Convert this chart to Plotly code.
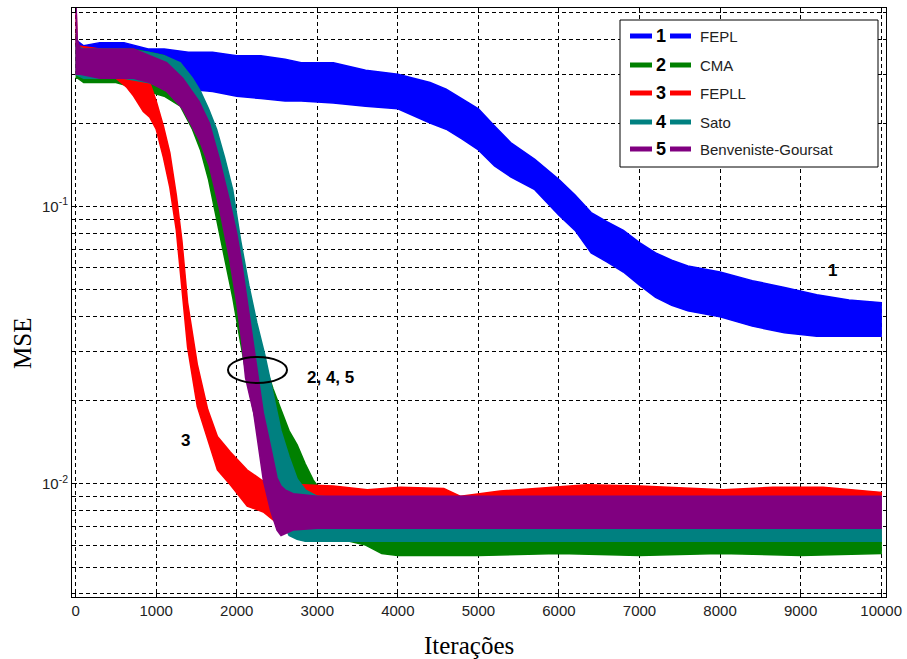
import plotly.graph_objects as go

# ---------------- data (noise-band envelopes) ----------------
fepl_iter = [0, 100, 300, 600, 900, 1100, 1400, 1700, 2000, 2300, 2600, 2800, 3200, 3600, 4000,
             4400, 4600, 4800, 5000, 5200, 5400, 5700, 6000, 6200, 6400, 6600, 6800, 7000, 7200,
             7400, 7600, 8000, 8400, 8800, 9200, 9600, 10000]
fepl_upper = [0.40, 0.38, 0.39, 0.39, 0.37, 0.37, 0.36, 0.36, 0.35, 0.35, 0.34, 0.33, 0.33, 0.31, 0.30,
              0.28, 0.265, 0.245, 0.225, 0.195, 0.17, 0.148, 0.125, 0.11, 0.095, 0.088, 0.082, 0.074, 0.068,
              0.064, 0.061, 0.058, 0.054, 0.051, 0.048, 0.046, 0.045]
fepl_lower = [0.30, 0.29, 0.29, 0.28, 0.28, 0.27, 0.265, 0.26, 0.25, 0.245, 0.24, 0.24, 0.236, 0.23, 0.225,
              0.20, 0.19, 0.175, 0.16, 0.14, 0.128, 0.115, 0.093, 0.082, 0.068, 0.063, 0.058, 0.052, 0.047,
              0.044, 0.042, 0.040, 0.037, 0.035, 0.034, 0.034, 0.034]

cma_iter = [0, 30, 100, 300, 500, 700, 900, 1100, 1300, 1450, 1550, 1650, 1750, 1850, 1950, 2050,
            2150, 2250, 2350, 2450, 2550, 2650, 2750, 2850, 2950, 3050, 3200, 3400, 3600, 3800, 4000,
            5000, 6000, 7000, 8000, 9000, 10000]
cma_upper = [0.42, 0.38, 0.37, 0.37, 0.37, 0.37, 0.36, 0.35, 0.32, 0.28, 0.24, 0.19, 0.15, 0.11,
             0.085, 0.062, 0.045, 0.034, 0.027, 0.022, 0.0185, 0.0155, 0.0138, 0.0118, 0.0103, 0.0094,
             0.009, 0.0086, 0.0086, 0.0085, 0.0085, 0.0085, 0.0085, 0.0085, 0.0085, 0.0085, 0.0085]
cma_lower = [0.29, 0.29, 0.28, 0.28, 0.28, 0.27, 0.26, 0.25, 0.23, 0.19, 0.16, 0.125, 0.09, 0.065,
             0.047, 0.032, 0.022, 0.016, 0.012, 0.0098, 0.0082, 0.0072, 0.0068, 0.0066, 0.0065, 0.0064,
             0.0063, 0.0062, 0.006, 0.0056, 0.0055, 0.0055, 0.0056, 0.0055, 0.0056, 0.0055, 0.0056]

fepll_iter = [0, 20, 300, 500, 630, 720, 840, 920, 1000, 1090, 1170, 1250, 1320, 1390, 1510, 1640,
              1760, 1920, 2130, 2330, 2500, 3200, 3620, 4030, 4570, 4780, 5270, 5680, 6350, 7010, 7420,
              8040, 8660, 9280, 10000]
fepll_upper = [0.60, 0.38, 0.37, 0.36, 0.35, 0.33, 0.31, 0.28, 0.24, 0.195, 0.156, 0.11, 0.075,
               0.045, 0.027, 0.0185, 0.0148, 0.013, 0.0112, 0.0102, 0.0100, 0.0098, 0.0095, 0.0097,
               0.0096, 0.0090, 0.0094, 0.0096, 0.0099, 0.0098, 0.0097, 0.0095, 0.0097, 0.0097, 0.0093]
fepll_lower = [0.30, 0.30, 0.30, 0.29, 0.27, 0.25, 0.22, 0.21, 0.19, 0.15, 0.117, 0.082, 0.052,
               0.031, 0.019, 0.0145, 0.0112, 0.0099, 0.0083, 0.0079, 0.0072, 0.0065, 0.0065, 0.0065,
               0.0065, 0.0065, 0.0065, 0.0065, 0.0065, 0.0065, 0.0065, 0.0065, 0.0065, 0.0065, 0.0065]

sato_iter = [0, 100, 300, 600, 900, 1100, 1300, 1450, 1550, 1650, 1750, 1850, 1950, 2050, 2150, 2250,
             2350, 2450, 2550, 2650, 2750, 2850, 3000, 3600, 4000, 5000, 6000, 7000, 8000, 9000, 10000]
sato_upper = [0.38, 0.37, 0.37, 0.37, 0.36, 0.35, 0.33, 0.29, 0.26, 0.225, 0.19, 0.15, 0.115, 0.075,
              0.052, 0.038, 0.029, 0.021, 0.0155, 0.0125, 0.0104, 0.0095, 0.009, 0.0088, 0.0088, 0.0088,
              0.0088, 0.0088, 0.0088, 0.0088, 0.0088]
sato_lower = [0.30, 0.29, 0.29, 0.29, 0.28, 0.27, 0.25, 0.215, 0.19, 0.16, 0.125, 0.092, 0.068, 0.05,
              0.03, 0.019, 0.0135, 0.0098, 0.0075, 0.0065, 0.0063, 0.0062, 0.0062, 0.0062, 0.0062,
              0.0062, 0.0062, 0.0062, 0.0062, 0.0062, 0.0062]

bg_iter = [0, 20, 60, 300, 720, 920, 1130, 1330, 1530, 1660, 1780, 1910, 2000, 2060, 2110, 2210, 2270,
           2330, 2420, 2500, 2550, 2600, 2700, 3000, 4000, 5000, 6000, 7000, 8000, 9000, 10000]
bg_upper = [0.60, 0.40, 0.37, 0.37, 0.37, 0.35, 0.33, 0.29, 0.24, 0.20, 0.15, 0.105, 0.08, 0.063, 0.05,
            0.031, 0.024, 0.018, 0.0136, 0.0105, 0.0098, 0.0095, 0.0092, 0.009, 0.009, 0.009, 0.009,
            0.009, 0.009, 0.009, 0.009]
bg_lower = [0.30, 0.30, 0.30, 0.29, 0.29, 0.28, 0.26, 0.225, 0.175, 0.14, 0.10, 0.065, 0.045, 0.033,
            0.024, 0.018, 0.0136, 0.0103, 0.008, 0.0068, 0.0065, 0.0066, 0.0068, 0.0069, 0.0069, 0.0069,
            0.0069, 0.0069, 0.0069, 0.0069, 0.0069]

series_names = ["FEPL", "CMA", "FEPLL", "Sato", "Benveniste-Goursat"]
series_nums = ["1", "2", "3", "4", "5"]
series_colors = ["#0000FF", "#008000", "#FF0000", "#008080", "#800080"]
series_data = [
    (fepl_iter, fepl_upper, fepl_lower),
    (cma_iter, cma_upper, cma_lower),
    (fepll_iter, fepll_upper, fepll_lower),
    (sato_iter, sato_upper, sato_lower),
    (bg_iter, bg_upper, bg_lower),
]

x_ticks = [0, 1000, 2000, 3000, 4000, 5000, 6000, 7000, 8000, 9000, 10000]
y_major = [0.01, 0.1]
y_major_labels = ["10<sup>-2</sup>", "10<sup>-1</sup>"]
y_minor = [0.004, 0.005, 0.006, 0.007, 0.008, 0.009, 0.02, 0.03, 0.04, 0.05, 0.06, 0.07, 0.08,
           0.09, 0.2, 0.3, 0.4, 0.5]

# ---------------- figure ----------------
W, H = 907, 659
L, R, T, B = 72, 21, 8, 62
PW, PH = W - L - R, H - T - B


def px(xp):
    return (xp - L) / PW


def py(yp):
    return (H - B - yp) / PH


fig = go.Figure()
for (it, up, lo), name, col in zip(series_data, series_names, series_colors):
    fig.add_trace(go.Scatter(
        x=list(it) + list(it)[::-1],
        y=list(up) + list(lo)[::-1],
        mode="lines", fill="toself", fillcolor=col,
        line=dict(color=col, width=1.5),
        name=name, showlegend=False, hoverinfo="skip",
    ))

grid_dash = "4px,3px"
tick_font = dict(family="Liberation Sans, Arial", size=15, color="#222")
fig.update_xaxes(
    range=[-45, 10060], tickvals=x_ticks, ticktext=[str(v) for v in x_ticks],
    showgrid=True, gridcolor="black", griddash=grid_dash, gridwidth=1,
    showline=True, linecolor="black", linewidth=1, mirror="allticks",
    ticks="inside", ticklen=5, tickcolor="black", zeroline=False, automargin=False,
    tickfont=tick_font,
)
fig.update_yaxes(
    type="log", range=[-2.409, -0.284],
    tickvals=y_major, ticktext=y_major_labels,
    showgrid=True, gridcolor="black", griddash=grid_dash, gridwidth=1,
    showline=True, linecolor="black", linewidth=1, mirror="allticks",
    ticks="inside", ticklen=5, tickcolor="black", zeroline=False, automargin=False,
    minor=dict(tickmode="array", tickvals=y_minor, ticks="inside", ticklen=3, tickcolor="black",
               showgrid=True, gridcolor="black", griddash=grid_dash, gridwidth=1),
    tickfont=tick_font,
)

shapes = []
annotations = []

# axis titles (placed as in the reference)
title_font = dict(family="Liberation Serif, Times New Roman", size=25, color="black")
annotations.append(dict(text="Iterações", x=px(469), y=py(645), xref="paper", yref="paper",
                        xanchor="center", yanchor="middle", showarrow=False, font=title_font))
annotations.append(dict(text="MSE", x=px(22), y=py(344), xref="paper", yref="paper", textangle=-90,
                        xanchor="center", yanchor="middle", showarrow=False, font=title_font))

# ellipse around curves 2,4,5
shapes.append(dict(type="circle", xref="paper", yref="paper",
                   x0=px(228), x1=px(287), y0=py(383), y1=py(357),
                   line=dict(color="black", width=2)))

lab_font = dict(family="Liberation Sans, Arial", size=17, color="black")
for txt, xx, yy in [("<b>1</b>", 832, 270), ("<b>2, 4, 5</b>", 330, 378), ("<b>3</b>", 185, 440)]:
    annotations.append(dict(text=txt, x=px(xx), y=py(yy), xref="paper", yref="paper",
                            xanchor="center", yanchor="middle", showarrow=False, font=lab_font))

# custom legend box
shapes.append(dict(type="rect", xref="paper", yref="paper",
                   x0=px(620), x1=px(878), y0=py(167), y1=py(20),
                   fillcolor="white", line=dict(color="black", width=1), layer="above"))
leg_y = [36, 65, 93, 122, 149]
for yy, num, name, col in zip(leg_y, series_nums, series_names, series_colors):
    for xa, xb in [(630, 652), (670, 691)]:
        shapes.append(dict(type="line", xref="paper", yref="paper",
                           x0=px(xa), x1=px(xb), y0=py(yy), y1=py(yy),
                           line=dict(color=col, width=5), layer="above"))
    annotations.append(dict(text="<b>" + num + "</b>", x=px(661), y=py(yy), xref="paper", yref="paper",
                            xanchor="center", yanchor="middle", showarrow=False,
                            font=dict(family="Liberation Sans, Arial", size=18, color="black")))
    annotations.append(dict(text=name, x=px(698), y=py(yy), xref="paper", yref="paper",
                            xanchor="left", yanchor="middle", showarrow=False,
                            font=dict(family="Liberation Sans, Arial", size=15, color="#222")))

fig.update_layout(
    width=W, height=H, margin=dict(l=L, r=R, t=T, b=B),
    paper_bgcolor="white", plot_bgcolor="white",
    shapes=shapes, annotations=annotations, showlegend=False,
)

fig.write_html("out.html", config={"displayModeBar": False},
               post_script="document.body.style.margin='0px';")
